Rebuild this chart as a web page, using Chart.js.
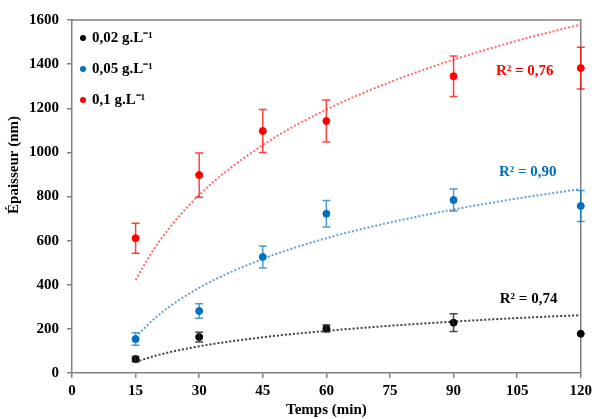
<!DOCTYPE html>
<html lang="fr">
<head>
    <meta charset="UTF-8">
    <title>Épaisseur vs temps</title>
    <script src="https://cdn.jsdelivr.net/npm/chart.js"></script>
    <style>
        body { margin: 0; background: #fff; }
        #wrap { width: 596px; height: 419px; }
    </style>
</head>
<body>
<div id="wrap"><canvas id="chart" width="596" height="419"></canvas></div>
<script>
    // measured points (time in min, thickness in nm)
    const times = [15, 30, 45, 60, 90, 120];
    const labels = ['0,02 g.L\u207B\u00B9', '0,05 g.L\u207B\u00B9', '0,1 g.L\u207B\u00B9'];
    const low = [63, 163, null, 202, 228, 178];
    const lowErr = [12, 22, null, 16, 40, 0];
    const mid = [154, 281, 526, 722, 784, 757];
    const midErr = [28, 33, 50, 60, 50, 70];
    const high = [611, 897, 1097, 1142, 1345, 1382];
    const highErr = [68, 100, 97, 95, 92, 95];

    // logarithmic trend lines
    const trendTimes = [15, 20, 30, 45, 60, 75, 90, 105, 120];
    const lowTrend = [50, 80, 121, 162, 191, 214, 233, 249, 262];
    const midTrend = [163, 256, 386, 517, 611, 682, 741, 791, 834];
    const highTrend = [422, 581, 807, 1033, 1194, 1318, 1420, 1506, 1580];
    const r2 = ['R\u00B2 = 0,74', 'R\u00B2 = 0,90', 'R\u00B2 = 0,76'];

    const xTicks = [0, 15, 30, 45, 60, 75, 90, 105, 120];
    const yTicks = [0, 200, 400, 600, 800, 1000, 1200, 1400, 1600];

    const colors = ['#000000', '#0070c0', '#ff0000'];
    const barColors = ['rgba(40,40,40,0.85)', 'rgba(0,112,192,0.7)', 'rgba(255,0,0,0.75)'];
    const trendColors = ['#404040', 'rgba(91,155,213,0.95)', 'rgba(255,80,80,0.85)'];
    const series = [low, mid, high];
    const errors = [lowErr, midErr, highErr];
    const trends = [lowTrend, midTrend, highTrend];

    const FONT = 'bold 15px "Liberation Serif", "Times New Roman", serif';

    const datasets = [];
    series.forEach((vals, i) => {
        datasets.push({
            type: 'scatter',
            label: labels[i],
            data: times.map((t, j) => ({ x: t, y: vals[j] })),
            backgroundColor: colors[i],
            borderColor: colors[i],
            pointRadius: 3.5,
            clip: false,
            order: 1
        });
    });
    trends.forEach((vals, i) => {
        datasets.push({
            type: 'line',
            label: 'trend' + i,
            data: trendTimes.map((t, j) => ({ x: t, y: vals[j] })),
            borderColor: trendColors[i],
            borderWidth: 2,
            borderDash: [2, 2],
            pointRadius: 0,
            fill: false,
            cubicInterpolationMode: 'monotone',
            order: 2
        });
    });

    // error bars, frame, legend, R² labels and axis titles
    const extras = {
        id: 'extras',
        beforeDatasetsDraw(chart) {
            const { ctx, chartArea: a } = chart;
            ctx.save();
            ctx.strokeStyle = '#808080';
            ctx.lineWidth = 1.5;
            ctx.beginPath();
            ctx.moveTo(a.left, a.top);
            ctx.lineTo(a.right, a.top);
            ctx.lineTo(a.right, a.bottom);
            ctx.stroke();
            ctx.restore();
        },
        afterDatasetsDraw(chart) {
            const { ctx, scales: { x, y } } = chart;
            ctx.save();
            ctx.lineWidth = 1.5;
            series.forEach((vals, i) => {
                ctx.strokeStyle = barColors[i];
                vals.forEach((v, j) => {
                    const e = errors[i][j];
                    if (v === null || !e) return;
                    const px = x.getPixelForValue(times[j]);
                    const top = y.getPixelForValue(v + e);
                    const bot = y.getPixelForValue(v - e);
                    ctx.beginPath();
                    ctx.moveTo(px, top); ctx.lineTo(px, bot);
                    ctx.moveTo(px - 4, top); ctx.lineTo(px + 4, top);
                    ctx.moveTo(px - 4, bot); ctx.lineTo(px + 4, bot);
                    ctx.stroke();
                });
            });

            // legend
            ctx.font = FONT;
            ctx.textBaseline = 'middle';
            ctx.textAlign = 'left';
            const legendY = [38, 69, 100];
            labels.forEach((l, i) => {
                ctx.fillStyle = colors[i];
                ctx.beginPath();
                ctx.arc(83, legendY[i], 3, 0, Math.PI * 2);
                ctx.fill();
                ctx.fillStyle = '#000';
                ctx.fillText(l, 92, legendY[i]);
            });

            // R² labels
            ctx.textAlign = 'center';
            const r2Pos = [[107.7, 335], [107.5, 910], [106.8, 1370]];
            r2.forEach((t, i) => {
                ctx.fillStyle = colors[i];
                ctx.fillText(t, x.getPixelForValue(r2Pos[i][0]), y.getPixelForValue(r2Pos[i][1]));
            });

            // axis titles
            ctx.fillStyle = '#000';
            ctx.fillText('Temps (min)', (chart.chartArea.left + chart.chartArea.right) / 2, 410);
            ctx.translate(14, 165);
            ctx.rotate(-Math.PI / 2);
            ctx.fillText('\u00C9paisseur (nm)', 0, 0);
            ctx.restore();
        }
    };

    const tickFont = { family: '"Liberation Serif", serif', size: 15, weight: 'bold' };

    new Chart(document.getElementById('chart'), {
        data: { datasets: datasets },
        options: {
            responsive: false,
            animation: false,
            layout: { padding: { top: 20, right: 11, left: 0, bottom: 0 } },
            plugins: { legend: { display: false }, tooltip: { enabled: false } },
            scales: {
                x: {
                    type: 'linear',
                    min: 0, max: 120,
                    afterBuildTicks(s) { s.ticks = xTicks.map(v => ({ value: v })); },
                    afterFit(s) { s.height = 46; },
                    grid: { drawOnChartArea: false, drawTicks: true, tickLength: 5, color: '#808080', lineWidth: 1.5 },
                    border: { color: '#808080', width: 1.5 },
                    ticks: { color: '#000', padding: 4, font: tickFont, callback: v => String(v) }
                },
                y: {
                    min: 0, max: 1600,
                    afterBuildTicks(s) { s.ticks = yTicks.map(v => ({ value: v })); },
                    afterFit(s) { s.width = 72; },
                    grid: { drawOnChartArea: false, drawTicks: true, tickLength: 5, color: '#808080', lineWidth: 1.5 },
                    border: { color: '#808080', width: 1.5 },
                    ticks: { color: '#000', padding: 8, font: tickFont, callback: v => String(v) }
                }
            }
        },
        plugins: [extras]
    });
</script>
</body>
</html>
